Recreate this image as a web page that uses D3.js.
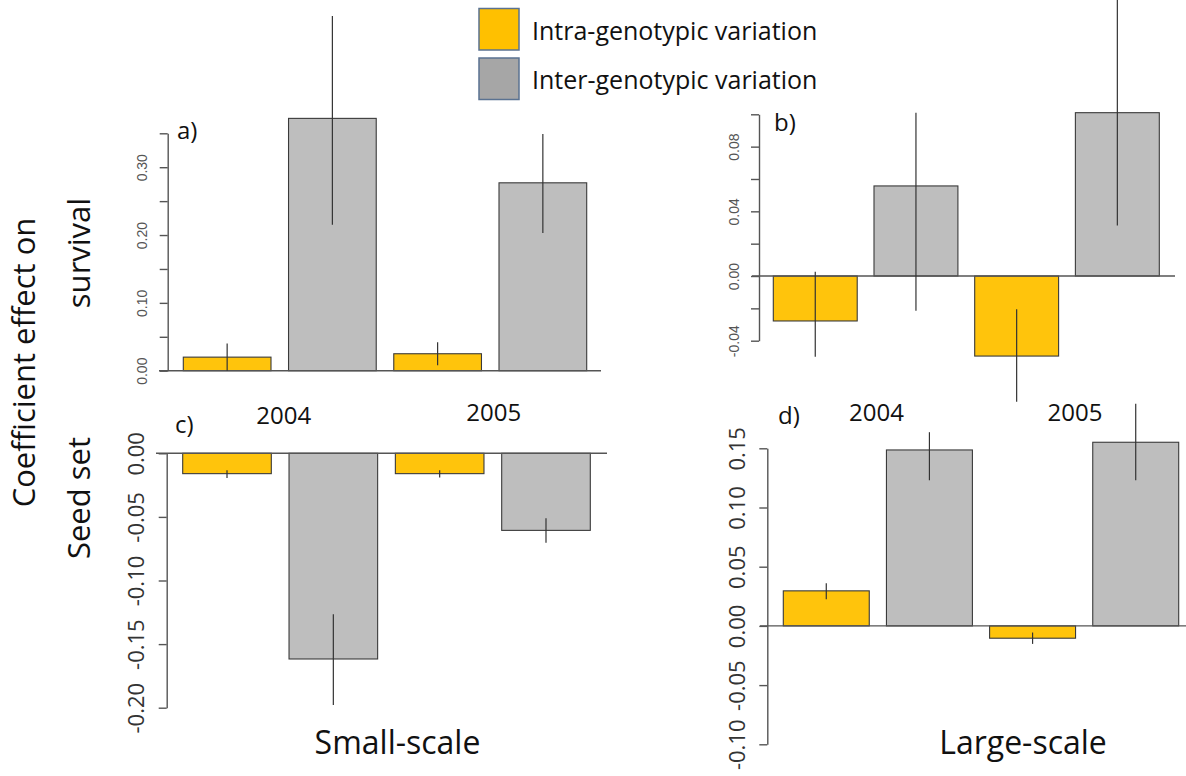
<!DOCTYPE html>
<html>
<head>
<meta charset="utf-8">
<script src="https://cdn.jsdelivr.net/npm/d3@7"></script>
<style>
  html, body { margin: 0; padding: 0; background: #ffffff; }
  svg { display: block; }
</style>
</head>
<body>
<svg id="chart" width="1186" height="776"></svg>
<script>
// ---------------- DATA ----------------
const years = ["2004", "2005"];
const seriesNames = ["Intra-genotypic variation", "Inter-genotypic variation"];

// a) survival, small-scale
const survSmallIntra   = [0.020, 0.025];
const survSmallIntraLo = [0.000, 0.008];
const survSmallIntraHi = [0.040, 0.042];
const survSmallInter   = [0.372, 0.277];
const survSmallInterLo = [0.215, 0.203];
const survSmallInterHi = [0.523, 0.349];
const survSmallTicks  = [0, 0.05, 0.10, 0.15, 0.20, 0.25, 0.30, 0.35];
const survSmallLabels = ["0.00", "", "0.10", "", "0.20", "", "0.30", ""];

// b) survival, large-scale
const survLargeIntra   = [-0.0278, -0.0495];
const survLargeIntraLo = [-0.050, -0.0777];
const survLargeIntraHi = [0.0027, -0.0206];
const survLargeInter   = [0.0557, 0.101];
const survLargeInterLo = [-0.0215, 0.0313];
const survLargeInterHi = [0.101, 0.171];
const survLargeTicks  = [-0.04, -0.02, 0, 0.02, 0.04, 0.06, 0.08, 0.10];
const survLargeLabels = ["-0.04", "", "0.00", "", "0.04", "", "0.08", ""];

// c) seed set, small-scale
const seedSmallIntra   = [-0.016, -0.016];
const seedSmallIntraLo = [-0.0194, -0.019];
const seedSmallIntraHi = [-0.0134, -0.0134];
const seedSmallInter   = [-0.1617, -0.0606];
const seedSmallInterLo = [-0.1979, -0.0703];
const seedSmallInterHi = [-0.1266, -0.051];
const seedSmallTicks  = [-0.20, -0.15, -0.10, -0.05, 0];
const seedSmallLabels = ["-0.20", "-0.15", "-0.10", "-0.05", "0.00"];

// d) seed set, large-scale
const seedLargeIntra   = [0.0296, -0.0104];
const seedLargeIntraLo = [0.0225, -0.0152];
const seedLargeIntraHi = [0.036, -0.0056];
const seedLargeInter   = [0.1486, 0.1551];
const seedLargeInterLo = [0.123, 0.123];
const seedLargeInterHi = [0.1636, 0.1877];
const seedLargeTicks  = [-0.10, -0.05, 0, 0.05, 0.10, 0.15];
const seedLargeLabels = ["-0.10", "-0.05", "0.00", "0.05", "0.10", "0.15"];

// ---------------- STYLE ----------------
const YELLOW = "#FFC40C";
const GREY = "#BEBEBE";
const BAR_STROKE = "#3a3a3a";
const AXIS_COL = "#555555";
const FONT = "'Open Sans', 'Noto Sans', sans-serif";
const TEXT_COL = "#111111";

const svg = d3.select("#chart");

function buildBars(intra, intraLo, intraHi, inter, interLo, interHi) {
  const out = [];
  years.forEach((yr, i) => {
    out.push({ key: yr + "-intra", series: 0, v: intra[i], lo: intraLo[i], hi: intraHi[i] });
    out.push({ key: yr + "-inter", series: 1, v: inter[i], lo: interLo[i], hi: interHi[i] });
  });
  return out;
}

function drawPanel(cfg) {
  const g = svg.append("g");
  const y = d3.scaleLinear().domain(cfg.domain).range(cfg.yRange);
  const bars = cfg.bars;
  const x = d3.scaleBand()
    .domain(bars.map(d => d.key))
    .range(cfg.xRange)
    .paddingInner(0.2 / 1.2)
    .paddingOuter(0);

  g.selectAll("rect.bar").data(bars).join("rect")
    .attr("class", "bar")
    .attr("x", d => x(d.key))
    .attr("width", x.bandwidth())
    .attr("y", d => Math.min(y(d.v), y(0)))
    .attr("height", d => Math.abs(y(d.v) - y(0)))
    .attr("fill", d => d.series === 0 ? YELLOW : GREY)
    .attr("stroke", BAR_STROKE)
    .attr("stroke-width", 1.1);

  g.append("line")
    .attr("x1", cfg.baseX[0]).attr("x2", cfg.baseX[1])
    .attr("y1", y(0)).attr("y2", y(0))
    .attr("stroke", AXIS_COL).attr("stroke-width", 1.4);

  g.selectAll("line.err").data(bars).join("line")
    .attr("class", "err")
    .attr("x1", d => x(d.key) + x.bandwidth() / 2)
    .attr("x2", d => x(d.key) + x.bandwidth() / 2)
    .attr("y1", d => y(d.lo))
    .attr("y2", d => y(d.hi))
    .attr("stroke", "#333333")
    .attr("stroke-width", 1.2);

  const axis = d3.axisLeft(y)
    .tickValues(cfg.ticks)
    .tickSize(8)
    .tickSizeOuter(0)
    .tickFormat((d, i) => cfg.labels[i]);
  const ag = g.append("g")
    .attr("transform", `translate(${cfg.axisX},0)`)
    .call(axis);
  ag.select(".domain").attr("stroke", AXIS_COL).attr("stroke-width", 1.4);
  ag.selectAll(".tick line").attr("stroke", AXIS_COL).attr("stroke-width", 1.4);
  ag.selectAll(".tick text")
    .attr("x", 0).attr("y", 0).attr("dy", null)
    .attr("text-anchor", "middle")
    .attr("dominant-baseline", "central")
    .attr("transform", `translate(${-cfg.labelOff},0) rotate(-90)`)
    .style("font-family", cfg.tickFont)
    .style("font-size", cfg.tickSize + "px")
    .attr("fill", cfg.tickColor);

  g.append("text")
    .attr("x", cfg.letterPos[0]).attr("y", cfg.letterPos[1])
    .text(cfg.letter)
    .style("font-family", FONT).style("font-size", "24px")
    .attr("fill", TEXT_COL);

  if (cfg.yearPos) {
    years.forEach((yr, i) => {
      g.append("text")
        .attr("x", cfg.yearPos[i][0]).attr("y", cfg.yearPos[i][1])
        .attr("text-anchor", "middle")
        .attr("dominant-baseline", "central")
        .text(yr)
        .style("font-family", FONT).style("font-size", "24px")
        .attr("fill", TEXT_COL);
    });
  }
}

drawPanel({
  bars: buildBars(survSmallIntra, survSmallIntraLo, survSmallIntraHi, survSmallInter, survSmallInterLo, survSmallInterHi),
  domain: [0, 0.35], yRange: [370.7, 133.3],
  xRange: [183.3, 586.7], axisX: 167.7, baseX: [159, 601],
  ticks: survSmallTicks, labels: survSmallLabels,
  labelOff: 26, tickFont: "'Liberation Sans', Arial, sans-serif", tickSize: 14, tickColor: "#555",
  letter: "a)", letterPos: [177, 139]
});
drawPanel({
  bars: buildBars(survLargeIntra, survLargeIntraLo, survLargeIntraHi, survLargeInter, survLargeInterLo, survLargeInterHi),
  domain: [-0.04, 0.10], yRange: [340.7, 114.3],
  xRange: [773.3, 1159.3], axisX: 759, baseX: [752, 1175],
  ticks: survLargeTicks, labels: survLargeLabels,
  labelOff: 25, tickFont: "'Liberation Sans', Arial, sans-serif", tickSize: 14, tickColor: "#555",
  letter: "b)", letterPos: [774, 131]
});
drawPanel({
  bars: buildBars(seedSmallIntra, seedSmallIntraLo, seedSmallIntraHi, seedSmallInter, seedSmallInterLo, seedSmallInterHi),
  domain: [-0.20, 0], yRange: [707.7, 453.3],
  xRange: [182.7, 590.3], axisX: 166.7, baseX: [156, 607],
  ticks: seedSmallTicks, labels: seedSmallLabels,
  labelOff: 32, tickFont: FONT, tickSize: 22, tickColor: "#333",
  letter: "c)", letterPos: [175, 433],
  yearPos: [[283.7, 414], [493.7, 411.5]]
});
drawPanel({
  bars: buildBars(seedLargeIntra, seedLargeIntraLo, seedLargeIntraHi, seedLargeInter, seedLargeInterLo, seedLargeInterHi),
  domain: [-0.10, 0.15], yRange: [744.3, 448.3],
  xRange: [783.3, 1178.7], axisX: 767.3, baseX: [760, 1186],
  ticks: seedLargeTicks, labels: seedLargeLabels,
  labelOff: 31, tickFont: FONT, tickSize: 22, tickColor: "#333",
  letter: "d)", letterPos: [778, 424],
  yearPos: [[876.5, 411], [1075, 411]]
});

// legend
const legendFill = ["#FFC000", "#A6A6A6"];
const legend = svg.append("g");
seriesNames.forEach((name, i) => {
  legend.append("rect")
    .attr("x", 479).attr("y", 8.5 + i * 49.5)
    .attr("width", 40).attr("height", 41.5)
    .attr("fill", legendFill[i])
    .attr("stroke", "#5a7291").attr("stroke-width", 1.5);
  legend.append("text")
    .attr("x", 532).attr("y", 30 + i * 48.5)
    .attr("dominant-baseline", "central")
    .text(name)
    .style("font-family", FONT).style("font-size", "25px")
    .attr("fill", TEXT_COL);
});

// bottom labels
[["Small-scale", 397.5], ["Large-scale", 1023]].forEach(([t, cx]) => {
  svg.append("text")
    .attr("x", cx).attr("y", 754)
    .attr("text-anchor", "middle")
    .text(t)
    .style("font-family", FONT).style("font-size", "32px")
    .attr("fill", TEXT_COL);
});

// left labels
[["Coefficient effect on", 23, 362.5], ["survival", 78, 253], ["Seed set", 78, 498]].forEach(([t, cx, cy]) => {
  svg.append("text")
    .attr("transform", `translate(${cx},${cy}) rotate(-90)`)
    .attr("text-anchor", "middle")
    .attr("dominant-baseline", "central")
    .text(t)
    .style("font-family", FONT).style("font-size", "31px")
    .attr("fill", TEXT_COL);
});
</script>
</body>
</html>
